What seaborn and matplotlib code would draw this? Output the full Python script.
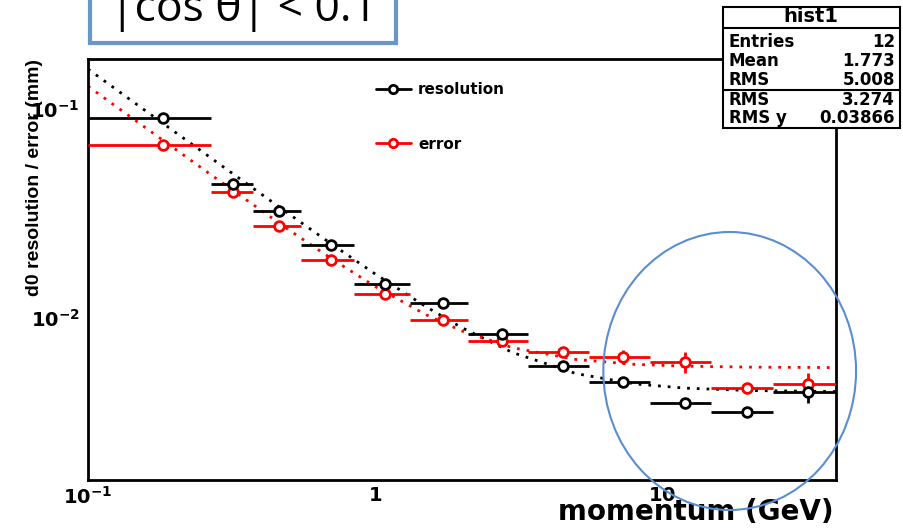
import numpy as np
import pandas as pd
import matplotlib
matplotlib.use("Agg")
import matplotlib.pyplot as plt
import seaborn as sns
from matplotlib.lines import Line2D
from matplotlib.patches import Rectangle, Ellipse
from matplotlib.ticker import FixedLocator, FixedFormatter, LogLocator, NullFormatter

# momentum bins (GeV)
bin_lo = [0.1, 0.268, 0.375, 0.551, 0.845, 1.317, 2.11, 3.41, 5.53, 9.04, 14.8, 24.3]
bin_hi = [0.268, 0.375, 0.551, 0.845, 1.317, 2.11, 3.41, 5.53, 9.04, 14.8, 24.3, 40.1]
momentum = [0.183, 0.321, 0.464, 0.699, 1.081, 1.716, 2.764, 4.49, 7.27, 11.96, 19.66, 32.2]

# d0 resolution (black) and error (red), mm
resolution = [0.0908, 0.0438, 0.0326, 0.0223, 0.01451, 0.01176, 0.00832, 0.00589, 0.00491, 0.0039, 0.00353, 0.00439]
resolution_err = [0.0008, 0.0004, 0.0003, 0.0002, 0.00012, 0.0001, 0.00008, 0.00006, 0.00006, 0.00006, 0.00008, 0.00051]
error = [0.0672, 0.0403, 0.0276, 0.01892, 0.01295, 0.00975, 0.00776, 0.00682, 0.00648, 0.00613, 0.00461, 0.0048]
error_err = [0.0006, 0.0004, 0.0003, 0.0002, 0.00012, 0.0001, 0.0001, 0.00026, 0.0005, 0.00071, 0.00024, 0.00064]

# dotted fit curves
fit_p = [0.1, 0.15, 0.2, 0.3, 0.5, 0.7, 1, 1.5, 2, 3, 5, 8, 12, 20, 40]
fit_resolution = [0.156, 0.104, 0.0781, 0.0522, 0.0315, 0.0227, 0.0162, 0.0113, 0.00896, 0.00681, 0.00539, 0.00481, 0.00459, 0.00447, 0.00442]
fit_error = [0.129, 0.0862, 0.0648, 0.0434, 0.0264, 0.0193, 0.0141, 0.01034, 0.00864, 0.00718, 0.0063, 0.00597, 0.00585, 0.00579, 0.00576]

stats_names = ["Entries", "Mean", "RMS", "RMS", "RMS y"]
stats_values = ["12", "1.773", "5.008", "3.274", "0.03866"]

sns.set_theme(style="white")
plt.rcParams["font.family"] = ["DejaVu Sans"]
plt.rcParams["mathtext.fontset"] = "dejavusans"
plt.rcParams["text.color"] = "black"
plt.rcParams["axes.labelcolor"] = "black"

W, H = 904, 528
fig = plt.figure(figsize=(W / 100, H / 100), dpi=100)
ax = fig.add_axes([88 / W, 1 - 480 / H, (835.7 - 88) / W, (480 - 58.7) / H])

fits = pd.DataFrame({
    "p": fit_p * 2,
    "value": fit_resolution + fit_error,
    "series": ["resolution"] * len(fit_p) + ["error"] * len(fit_p),
})
sns.lineplot(data=fits, x="p", y="value", hue="series", estimator=None,
             palette={"resolution": "black", "error": "red"},
             linestyle=(0, (1, 2.5)), linewidth=2, legend=False, ax=ax)

for vals, errs, col in [(error, error_err, "red"), (resolution, resolution_err, "black")]:
    xerr = [np.subtract(momentum, bin_lo), np.subtract(bin_hi, momentum)]
    ax.errorbar(momentum, vals, xerr=xerr, yerr=errs, fmt="o", color=col,
                mfc="white", mec=col, mew=2, ms=7, elinewidth=2, capsize=0, zorder=3)

ax.set_xscale("log")
ax.set_yscale("log")
ax.set_xlim(0.1, 40.1)
ax.set_ylim(0.001663, 0.1749)

ax.xaxis.set_major_locator(FixedLocator([0.1, 1, 10]))
ax.xaxis.set_major_formatter(FixedFormatter([r"$\mathbf{10^{-1}}$", r"$\mathbf{1}$", r"$\mathbf{10}$"]))
ax.yaxis.set_major_locator(FixedLocator([0.01, 0.1]))
ax.yaxis.set_major_formatter(FixedFormatter([r"$\mathbf{10^{-2}}$", r"$\mathbf{10^{-1}}$"]))
for axis in (ax.xaxis, ax.yaxis):
    axis.set_minor_locator(LogLocator(base=10, subs=np.arange(2, 10)))
    axis.set_minor_formatter(NullFormatter())

ax.tick_params(axis="x", which="major", direction="in", length=9, width=1.5, labelsize=14, pad=4, colors="black")
ax.tick_params(axis="x", which="minor", direction="in", length=5, width=1.5)
ax.tick_params(axis="y", which="major", direction="in", length=16, width=1.5, labelsize=14, pad=6, colors="black")
ax.tick_params(axis="y", which="minor", direction="in", length=8, width=1.5)
for sp in ax.spines.values():
    sp.set_linewidth(2)
    sp.set_color("black")

ax.set_xlabel("momentum (GeV)", fontsize=20, fontweight="bold", loc="right")
ax.xaxis.set_label_coords(0.997, -0.042)
ax.set_ylabel("d0 resolution / error (mm)", fontsize=14, fontweight="bold",
              family=["Liberation Sans"], loc="top")
ax.yaxis.set_label_coords(-0.06, 1.0)

handles = [Line2D([], [], color="black", marker="o", mfc="white", mec="black", mew=2, ms=6, lw=2),
           Line2D([], [], color="red", marker="o", mfc="white", mec="red", mew=2, ms=6, lw=2)]
leg = ax.legend(handles, ["resolution", "error"], loc="upper left", bbox_to_anchor=(0.385, 0.945),
                frameon=False, borderpad=0, borderaxespad=0, handlelength=2.3, handletextpad=0.45,
                labelspacing=2.6, prop={"size": 11, "weight": "bold"})
for t in leg.get_texts():
    t.set_color("black")

# title box
fig.add_artist(Rectangle((90 / W, 1 - 42.7 / H), 306 / W, 0.2, transform=fig.transFigure,
                         facecolor="white", edgecolor="#6a96c8", lw=3, clip_on=False))
fig.text(244 / W, 1 - 20.7 / H, "|cos θ| < 0.1", ha="center", va="baseline", fontsize=32,
         family=["Open Sans", "DejaVu Sans"], color="black")

# stats box
bx0, bx1, by0, by1 = 722.7, 900, 7, 128
fig.add_artist(Rectangle((bx0 / W, 1 - by1 / H), (bx1 - bx0) / W, (by1 - by0) / H,
                         transform=fig.transFigure, facecolor="white", edgecolor="black", lw=1.5))
for yline in (28, 90):
    fig.add_artist(Line2D([bx0 / W, bx1 / W], [1 - yline / H] * 2, color="black", lw=1.5,
                          transform=fig.transFigure))
fig.text((bx0 + bx1) / 2 / W, 1 - 17 / H, "hist1", ha="center", va="center", fontsize=14, fontweight="bold")
for name, val, yrow in zip(stats_names, stats_values, [42, 61, 80, 100, 118]):
    fig.text(729 / W, 1 - yrow / H, name, ha="left", va="center", fontsize=12, fontweight="bold")
    fig.text(895 / W, 1 - yrow / H, val, ha="right", va="center", fontsize=12, fontweight="bold")

# highlight ellipse
fig.add_artist(Ellipse((729.7 / W, 1 - 371 / H), 252.7 / W, 278 / H, transform=fig.transFigure,
                       facecolor="none", edgecolor="#5b8ed0", lw=1.5))

fig.savefig("out.png", dpi=100)
